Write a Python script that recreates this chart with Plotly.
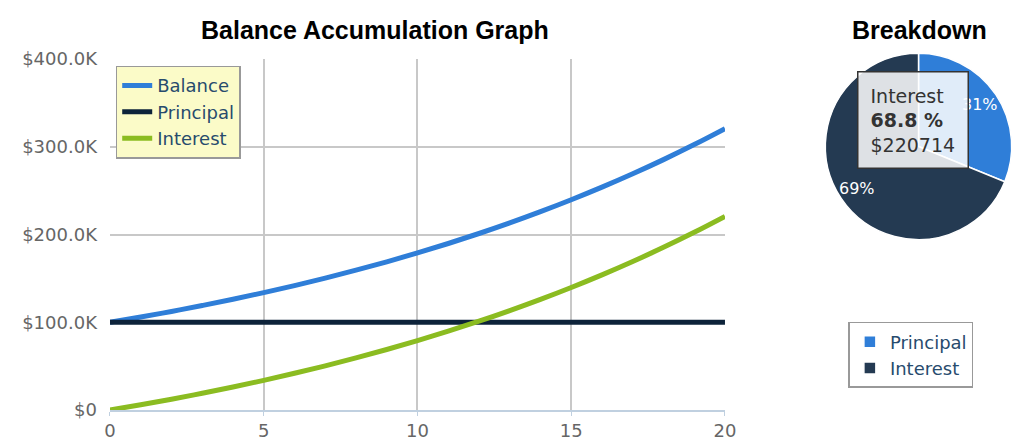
import math
import plotly.graph_objects as go

years = list(range(0, 21))
balance = [100000, 106000, 112360, 119102, 126248, 133823, 141852, 150363, 159385, 168948,
           179085, 189830, 201220, 213293, 226090, 239656, 254035, 269277, 285434, 302560, 320714]
principal = [100000] * 21
interest = [0, 6000, 12360, 19102, 26248, 33823, 41852, 50363, 59385, 68948,
            79085, 89830, 101220, 113293, 126090, 139656, 154035, 169277, 185434, 202560, 220714]

y_ticks = [0, 100000, 200000, 300000, 400000]
y_tick_labels = ["$0", "$100.0K", "$200.0K", "$300.0K", "$400.0K"]
x_ticks = [0, 5, 10, 15, 20]

pie_labels = ["Principal", "Interest"]
pie_values = [100000, 220714]
pie_text = ["31%", "69%"]

W, H = 1024, 438
line_colors = {"Balance": "#2f7ed8", "Principal": "#0d233a", "Interest": "#8bbc21"}

fig = go.Figure()
for name, vals in [("Balance", balance), ("Principal", principal), ("Interest", interest)]:
    fig.add_trace(go.Scatter(x=years, y=vals, name=name, mode="lines",
                             line=dict(color=line_colors[name], width=5, shape="spline"),
                             legend="legend"))

pie_dom_x = [0.806, 0.988]
pie_dom_y = [0.452, 0.879]
fig.add_trace(go.Pie(labels=pie_labels, values=pie_values, textinfo="none",
                     sort=False, direction="clockwise", rotation=0,
                     marker=dict(colors=["#2f7ed8", "#243a52"], line=dict(color="white", width=1.5)),
                     domain=dict(x=pie_dom_x, y=pie_dom_y),
                     legend="legend2", hoverinfo="skip"))

# slice labels placed along each slice's mid-angle
cx = (pie_dom_x[0] + pie_dom_x[1]) / 2 * W
cy = (pie_dom_y[0] + pie_dom_y[1]) / 2 * H
rad = min((pie_dom_x[1] - pie_dom_x[0]) * W, (pie_dom_y[1] - pie_dom_y[0]) * H) / 2
total = sum(pie_values)
annotations = []
acc = 0
for v, t in zip(pie_values, pie_text):
    mid = (acc + v / 2) / total * 2 * math.pi
    acc += v
    px = cx + 0.8 * rad * math.sin(mid)
    py = cy + 0.8 * rad * math.cos(mid)
    annotations.append(dict(text=t, x=px / W, y=py / H, xref="paper", yref="paper",
                            xanchor="center", yanchor="middle",
                            showarrow=False, font=dict(size=16, color="white", family="DejaVu Sans")))

annotations += [
    dict(text="<b>Balance Accumulation Graph</b>", x=0.366, y=0.932, xref="paper", yref="paper",
         xanchor="center", yanchor="middle",
         showarrow=False, font=dict(size=25, color="black", family="Liberation Sans")),
    dict(text="<b>Breakdown</b>", x=0.898, y=0.932, xref="paper", yref="paper",
         xanchor="center", yanchor="middle",
         showarrow=False, font=dict(size=25, color="black", family="Liberation Sans")),
    dict(text="Interest<br><b>68.8 %</b><br>$220714", x=0.892, y=0.726, xref="paper", yref="paper",
         xanchor="center", yanchor="middle",
         showarrow=False, align="left", bgcolor="rgba(255,255,255,0.85)",
         bordercolor="#333333", borderwidth=1.5, borderpad=12,
         font=dict(size=19, color="#333333", family="DejaVu Sans")),
]

fig.update_layout(
    width=W, height=H,
    margin=dict(l=0, r=0, t=0, b=0, autoexpand=False),
    paper_bgcolor="white", plot_bgcolor="white",
    font=dict(family="DejaVu Sans", color="#666666"),
    xaxis=dict(domain=[0.1074, 0.708], range=[0, 20], tickvals=x_ticks, automargin=False,
               showgrid=True, gridcolor="#c8c8c8", gridwidth=1.5,
               showline=True, linecolor="#c0d0e0", linewidth=1.5,
               ticks="outside", tickcolor="#c0d0e0", ticklen=4,
               tickfont=dict(size=18, color="#666666"), zeroline=False),
    yaxis=dict(domain=[0.0639, 0.865], range=[0, 400000], tickvals=y_ticks, automargin=False,
               ticktext=y_tick_labels, showgrid=True, gridcolor="#c8c8c8", gridwidth=1.5,
               tickfont=dict(size=18, color="#666666"), zeroline=False, ticks="",
               ticklabelstandoff=12),
    legend=dict(x=0.113, y=0.85, xanchor="left", yanchor="top",
                bgcolor="#fbfbc8", bordercolor="#999999", borderwidth=1.5,
                font=dict(size=18, color="#274b6d", family="DejaVu Sans"),
                itemwidth=30, tracegroupgap=0),
    legend2=dict(x=0.8285, y=0.265, xanchor="left", yanchor="top",
                 bgcolor="white", bordercolor="#999999", borderwidth=1.5,
                 font=dict(size=18, color="#274b6d", family="DejaVu Sans"),
                 itemwidth=30),
    annotations=annotations,
)

fig.write_html("out.html", config={"displayModeBar": False},
               post_script="document.body.style.margin='0';")
